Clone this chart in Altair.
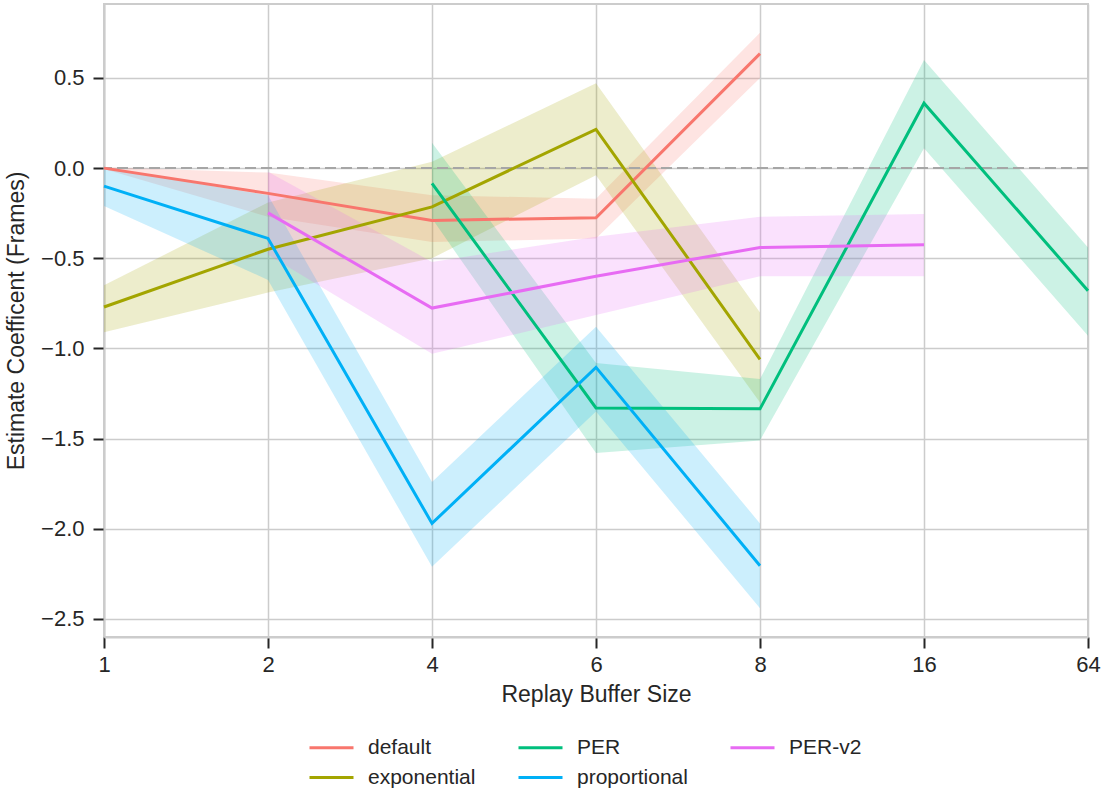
import altair as alt
import pandas as pd

# Replay buffer sizes shown as evenly spaced categories
sizes = ["1", "2", "4", "6", "8", "16", "64"]

# Method names (legend order) and their colours
methods = ["default", "exponential", "PER", "proportional", "PER-v2"]
colors = {
    "default": "#F8766D",
    "exponential": "#A3A500",
    "PER": "#00BF7D",
    "proportional": "#00B0F6",
    "PER-v2": "#E76BF3",
}

# Estimated coefficients with lower / upper confidence bounds
default_x = ["1", "2", "4", "6", "8"]
default_est = [0.0, -0.14, -0.29, -0.275, 0.635]
default_lo = [-0.005, -0.27, -0.41, -0.39, 0.50]
default_hi = [0.005, -0.025, -0.15, -0.17, 0.75]

exponential_x = ["1", "2", "4", "6", "8"]
exponential_est = [-0.77, -0.45, -0.215, 0.215, -1.06]
exponential_lo = [-0.91, -0.69, -0.50, -0.04, -1.30]
exponential_hi = [-0.65, -0.19, 0.035, 0.47, -0.80]

per_x = ["4", "6", "8", "16", "64"]
per_est = [-0.085, -1.33, -1.335, 0.36, -0.68]
per_lo = [-0.28, -1.58, -1.51, 0.11, -0.93]
per_hi = [0.14, -1.08, -1.17, 0.60, -0.44]

proportional_x = ["1", "2", "4", "6", "8"]
proportional_est = [-0.10, -0.39, -1.97, -1.105, -2.205]
proportional_lo = [-0.21, -0.62, -2.21, -1.35, -2.44]
proportional_hi = [0.0, -0.15, -1.74, -0.88, -1.97]

perv2_x = ["2", "4", "6", "8", "16"]
perv2_est = [-0.248, -0.776, -0.60, -0.44, -0.425]
perv2_lo = [-0.48, -1.03, -0.815, -0.60, -0.60]
perv2_hi = [-0.02, -0.52, -0.38, -0.27, -0.255]

series = {
    "default": (default_x, default_est, default_lo, default_hi),
    "exponential": (exponential_x, exponential_est, exponential_lo, exponential_hi),
    "PER": (per_x, per_est, per_lo, per_hi),
    "proportional": (proportional_x, proportional_est, proportional_lo, proportional_hi),
    "PER-v2": (perv2_x, perv2_est, perv2_lo, perv2_hi),
}

rows = []
for name, (xs, est, lo, hi) in series.items():
    for i, x in enumerate(xs):
        rows.append({"size": x, "method": name, "est": est[i], "lo": lo[i], "hi": hi[i]})
df = pd.DataFrame(rows)

color_scale = alt.Scale(domain=methods, range=[colors[m] for m in methods])

FONT = "Liberation Sans"
TEXT = "#262626"

# long horizontal line symbol that keeps the legend rows compact
legend = alt.Legend(
    title=None,
    orient="none",
    legendX=215,
    legendY=731,
    columns=3,
    symbolType="M-2,0H2",
    symbolSize=484,
    symbolStrokeWidth=3,
    labelFontSize=21,
    labelFont=FONT,
    labelColor=TEXT,
    labelOffset=24,
    columnPadding=36,
    rowPadding=7,
)

x_enc = alt.X(
    "size:N",
    sort=sizes,
    scale=alt.Scale(type="point", domain=sizes, padding=0),
    axis=alt.Axis(title="Replay Buffer Size", labelAngle=0, labelPadding=6),
)
y_scale = alt.Scale(domain=[-2.6, 0.91], nice=False, zero=False)
y_axis = alt.Axis(
    title="Estimate Coefficent (Frames)",
    values=[-2.5, -2.0, -1.5, -1.0, -0.5, 0.0, 0.5],
    format=".1f",
    labelPadding=9,
)

base = alt.Chart(df)

# confidence bands
bands = base.mark_area(opacity=0.2).encode(
    x=x_enc,
    y=alt.Y("lo:Q", scale=y_scale, axis=y_axis),
    y2="hi:Q",
    color=alt.Color("method:N", scale=color_scale, legend=None),
)

# reference line at zero
zero = alt.Chart(pd.DataFrame({"y": [0.0]})).mark_rule(
    strokeDash=[11, 5], color="#a6a6a6", strokeWidth=2
).encode(y=alt.Y("y:Q", scale=y_scale))

# point estimates
lines = base.mark_line(strokeWidth=3).encode(
    x=x_enc,
    y=alt.Y("est:Q", scale=y_scale, axis=y_axis),
    color=alt.Color("method:N", scale=color_scale, legend=legend),
)

chart = (
    alt.layer(bands, zero, lines)
    .resolve_legend(color="independent")
    .properties(
        width=984,
        height=633,
        autosize=alt.AutoSizeParams(type="none"),
        padding={"left": 104, "top": 4, "right": 16, "bottom": 152},
    )
    .configure_view(stroke="#cccccc", strokeWidth=2)
    .configure_axis(
        grid=True,
        gridColor="#cccccc",
        gridWidth=1.5,
        domainColor="#cccccc",
        domainWidth=2,
        tickColor=TEXT,
        tickWidth=2,
        tickSize=11,
        labelFont=FONT,
        labelFontSize=22,
        labelColor=TEXT,
        titleFont=FONT,
        titleFontSize=23,
        titleFontWeight="normal",
        titleColor=TEXT,
    )
    .configure_axisX(titlePadding=8)
    .configure_axisY(titlePadding=12)
)

chart.save("out.html", embed_options={"renderer": "svg", "actions": False})
